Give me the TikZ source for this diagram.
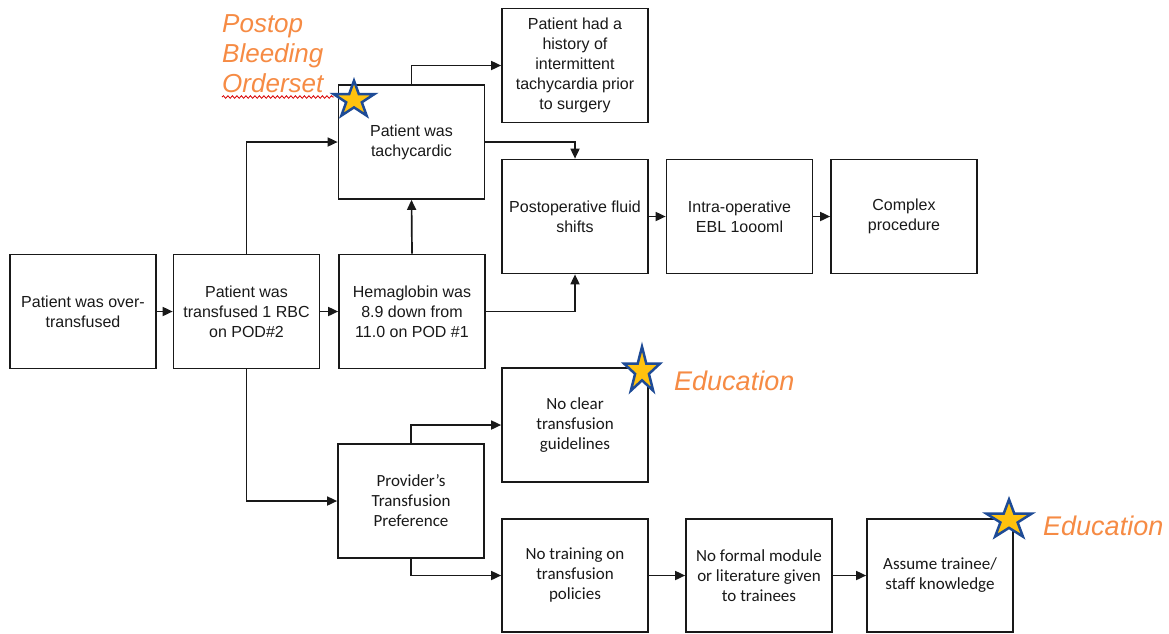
\documentclass[tikz,border=0pt]{standalone}
\usepackage{fontspec}
\setmainfont{Liberation Sans}
\newfontfamily\calib{Carlito}
\usetikzlibrary{arrows.meta,decorations.pathmorphing}
\definecolor{orng}{RGB}{246,139,68}
\definecolor{stfill}{RGB}{255,194,14}
\definecolor{stline}{RGB}{30,75,150}
\definecolor{ink}{RGB}{25,25,25}
\newcommand\drawstar[4]{%
  \filldraw[starsty] ({#1},{#2-#4})
    \foreach \k in {1,...,9}{ -- ({#1+#3*cos(-90+36*\k)*(1-0.618*mod(\k,2))},{#2+#4*sin(-90+36*\k)*(1-0.618*mod(\k,2))}) } -- cycle;}
\tikzset{
  box/.style={draw=ink, line width=1.7pt, minimum width=146pt, minimum height=114pt,
    inner sep=2pt, align=center, text=ink, font=\fontsize{16}{20}\selectfont},
  cbox/.style={box, font=\calib\fontsize{17}{20}\selectfont},
  conn/.style={draw=ink, line width=1.7pt, -{Triangle[length=10pt,width=9pt]}},
  starsty/.style={fill=stfill, draw=stline, line width=2.5pt, line join=miter},
  note/.style={text=orng, font=\itshape\fontsize{26}{31}\selectfont, inner sep=0pt, anchor=base west},
  edu/.style={text=orng, font=\itshape\fontsize{27}{31}\selectfont, inner sep=0pt, anchor=base west}
}
\begin{document}
\begin{tikzpicture}[x=1pt,y=-1pt]
\useasboundingbox (0,0) rectangle (1169,633);
\fill[white] (0,0) rectangle (1169,633);

\node[box] (A) at (83,311.5) {Patient was over-\\transfused};
\node[box] (B) at (246.5,311.5) {Patient was\\transfused 1 RBC\\on POD\#2};
\node[box] (C) at (412,311.5) {Hemaglobin was\\8.9 down from\\11.0 on POD \#1};
\node[box] (D) at (411.5,142) {Patient was\\tachycardic};
\node[box] (E) at (575,65.5) {Patient had a\\history of\\intermittent\\tachycardia prior\\to surgery};
\node[box] (F) at (575,216.5) {Postoperative fluid\\shifts};
\node[box] (G) at (739.5,216.5) {Intra-operative\\EBL 1oooml};
\node[box] (H) at (904,216.5) {Complex\\procedure};
\node[cbox] (I) at (575,425) {No clear\\transfusion\\guidelines};
\node[cbox] (J) at (411,501) {Provider’s\\Transfusion\\Preference};
\node[cbox, minimum height=113pt] (K) at (575,575.5) {No training on\\transfusion\\policies};
\node[cbox, minimum height=113pt] (L) at (759,575.5) {No formal module\\or literature given\\to trainees};
\node[cbox, minimum height=113pt] (M) at (940,575.5) {Assume trainee/\\staff knowledge};

\draw[conn] (A) -- (B);
\draw[conn] (B) -- (C);
\draw[conn] (B.north) |- (D.west);
\draw[conn] (B.south) |- (J.west);
\draw[conn] (C.north) -- (D.south);
\draw[conn] (C.east) -| (F.south);
\draw[conn] (D.north) |- (E.west);
\draw[conn] (D.east) -| (F.north);
\draw[conn] (F) -- (G);
\draw[conn] (G) -- (H);
\draw[conn] (J.north) |- (I.west);
\draw[conn] (J.south) |- (K.west);
\draw[conn] (K) -- (L);
\draw[conn] (L) -- (M);

\node[note] (p1) at (222,32) {Postop};
\node[note] (p2) at (222,62) {Bleeding};
\node[note] (p3) at (222,92) {Orderset};
\draw[red!85!black, line width=0.8pt, decorate, decoration={snake, amplitude=1.3pt, segment length=4.5pt}] (p3.base west) ++(0,5) -- ++(112,0);

\node[edu] (e1) at (674,390) {Education};
\node[edu] (e2) at (1043,535) {Education};

\drawstar{354}{100}{21.5}{19.3}
\drawstar{642}{371}{19}{24.3}
\drawstar{1009}{520}{23.7}{20.5}
\end{tikzpicture}
\end{document}
